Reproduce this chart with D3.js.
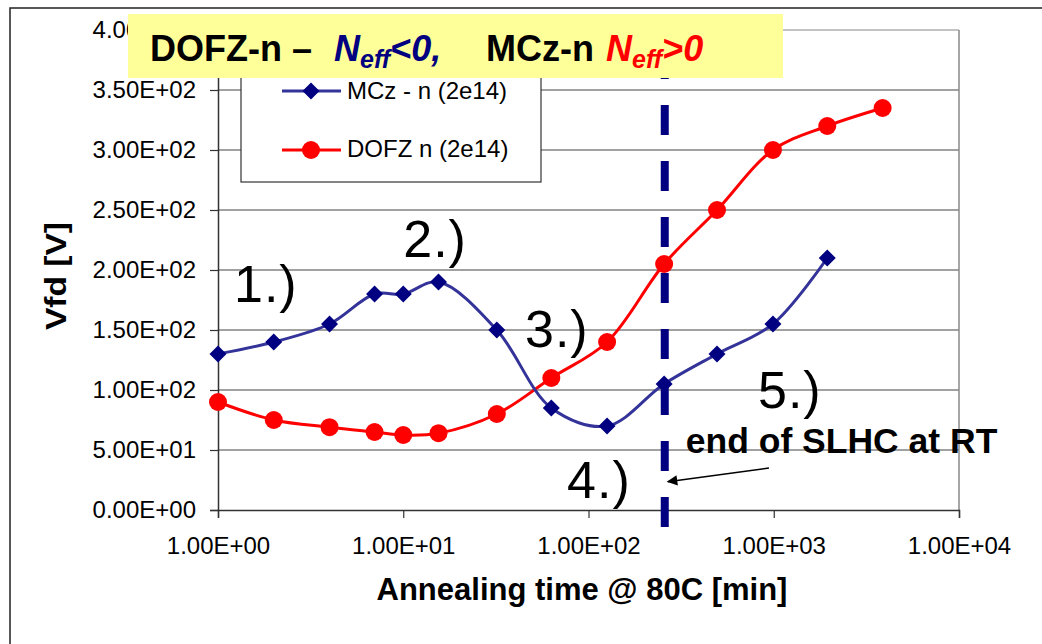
<!DOCTYPE html>
<html>
<head>
<meta charset="utf-8">
<script src="https://cdn.jsdelivr.net/npm/d3@7"></script>
<style>
  body { margin: 0; background: #fff; }
  svg { display: block; font-family: "Liberation Sans", Arial, sans-serif; }
</style>
</head>
<body>
<svg id="chart" width="1042" height="644"></svg>
<script>
// annealing times [min]
const times = [1, 2, 4, 7, 10, 15.5, 32, 63, 126, 256, 494, 990, 1945, 3870];
const mczValues = [130, 140, 155, 180, 180, 190, 150, 85, 70, 105, 130, 155, 210];
const dofzValues = [90, 75, 69, 65, 62.5, 64, 80, 110, 140, 205, 250, 300, 320, 335];
const yTicks = [0, 50, 100, 150, 200, 250, 300, 350, 400];
const xTicks = [1, 10, 100, 1000, 10000];
const endSLHC = 258;

const labels = [
  { text: "1.)", t: 1.22, v: 173.6 },
  { text: "2.)", t: 10.0, v: 210.6 },
  { text: "3.)", t: 45.4, v: 136 },
  { text: "4.)", t: 76.6, v: 9.75 },
  { text: "5.)", t: 822, v: 84.75 },
];

const svg = d3.select("#chart");

const x = d3.scaleLog().domain([1, 10000]).range([218, 959]);
const y = d3.scaleLinear().domain([0, 400]).range([510, 30]);

const sci = (v) => {
  if (v === 0) return "0.00E+00";
  const e = Math.floor(Math.log10(v) + 1e-9);
  const m = v / Math.pow(10, e);
  return m.toFixed(2) + "E+" + String(e).padStart(2, "0");
};

// outer chart frame
svg.append("path")
  .attr("d", "M10,644 L10,8 L1042,8")
  .attr("fill", "none")
  .attr("stroke", "#222")
  .attr("stroke-width", 1.5);

// gridlines
svg.append("g")
  .selectAll("line")
  .data(yTicks.filter((d) => d > 0))
  .join("line")
  .attr("x1", x(1)).attr("x2", x(10000))
  .attr("y1", (d) => y(d)).attr("y2", (d) => y(d))
  .attr("stroke", (d) => (d === 400 ? "#888" : "#444"))
  .attr("stroke-width", 1.2);

// right border of plot
svg.append("line")
  .attr("x1", x(10000)).attr("x2", x(10000))
  .attr("y1", y(0)).attr("y2", y(400))
  .attr("stroke", "#888").attr("stroke-width", 1.5);

// y axis
const yAxis = svg.append("g")
  .attr("transform", `translate(${x(1)},0)`)
  .call(d3.axisLeft(y).tickValues(yTicks).tickFormat(sci).tickSize(8).tickPadding(14));
yAxis.select(".domain").attr("stroke", "#333").attr("stroke-width", 1.5);
yAxis.selectAll("line").attr("stroke", "#333").attr("stroke-width", 1.2);
yAxis.selectAll("text")
  .attr("font-size", 24)
  .attr("font-family", "Liberation Sans, Arial, sans-serif")
  .attr("fill", "#000");

// x axis
const xAxis = svg.append("g")
  .attr("transform", `translate(0,${y(0)})`)
  .call(d3.axisBottom(x).tickValues(xTicks).tickFormat(sci).tickSize(8).tickPadding(19));
xAxis.select(".domain").attr("stroke", "#333").attr("stroke-width", 1.5);
xAxis.selectAll("line").attr("stroke", "#333").attr("stroke-width", 1.2);
xAxis.selectAll("text")
  .attr("font-size", 24)
  .attr("font-family", "Liberation Sans, Arial, sans-serif")
  .attr("fill", "#000");

// axis titles
svg.append("text")
  .attr("transform", "rotate(-90)")
  .attr("x", -276)
  .attr("y", 66)
  .attr("text-anchor", "middle")
  .attr("font-size", 29)
  .attr("font-weight", "bold")
  .attr("textLength", 108)
  .attr("lengthAdjust", "spacingAndGlyphs")
  .text("Vfd [V]");

svg.append("text")
  .attr("x", 582)
  .attr("y", 600)
  .attr("text-anchor", "middle")
  .attr("font-size", 31)
  .attr("font-weight", "bold")
  .text("Annealing time @ 80C [min]");

// legend box
const legend = svg.append("g");
legend.append("rect")
  .attr("x", 241).attr("y", 50)
  .attr("width", 300).attr("height", 132)
  .attr("fill", "#fff")
  .attr("stroke", "#333").attr("stroke-width", 1.2);

// end of SLHC dashed line
svg.append("line")
  .attr("x1", x(endSLHC)).attr("x2", x(endSLHC))
  .attr("y1", 527).attr("y2", y(400))
  .attr("stroke", "#000080")
  .attr("stroke-width", 8)
  .attr("stroke-dasharray", "30,26");

const line = d3.line()
  .x((d) => x(d[0]))
  .y((d) => y(d[1]))
  .curve(d3.curveCatmullRom.alpha(0.5));

const mcz = mczValues.map((v, i) => [times[i], v]);
const dofz = dofzValues.map((v, i) => [times[i], v]);

const diamond = (h) => `M0,${-h}L${h},0L0,${h}L${-h},0Z`;

// DOFZ series
svg.append("path")
  .attr("d", line(dofz))
  .attr("fill", "none")
  .attr("stroke", "#ff0000")
  .attr("stroke-width", 3);
svg.append("g")
  .selectAll("circle")
  .data(dofz)
  .join("circle")
  .attr("cx", (d) => x(d[0]))
  .attr("cy", (d) => y(d[1]))
  .attr("r", 9)
  .attr("fill", "#ff0000");

// MCz series
svg.append("path")
  .attr("d", line(mcz))
  .attr("fill", "none")
  .attr("stroke", "#333399")
  .attr("stroke-width", 3);
svg.append("g")
  .selectAll("path")
  .data(mcz)
  .join("path")
  .attr("d", diamond(8.5))
  .attr("transform", (d) => `translate(${x(d[0])},${y(d[1])})`)
  .attr("fill", "#000080");

// legend entries
legend.append("line")
  .attr("x1", 282).attr("x2", 341).attr("y1", 91).attr("y2", 91)
  .attr("stroke", "#333399").attr("stroke-width", 3);
legend.append("path")
  .attr("d", diamond(8.5))
  .attr("transform", "translate(311,91)")
  .attr("fill", "#000080");
legend.append("text")
  .attr("x", 347).attr("y", 99)
  .attr("font-size", 24)
  .text("MCz - n (2e14)");

legend.append("line")
  .attr("x1", 282).attr("x2", 341).attr("y1", 150).attr("y2", 150)
  .attr("stroke", "#ff0000").attr("stroke-width", 3);
legend.append("circle")
  .attr("cx", 311).attr("cy", 150).attr("r", 9)
  .attr("fill", "#ff0000");
legend.append("text")
  .attr("x", 347).attr("y", 157)
  .attr("font-size", 24)
  .text("DOFZ n (2e14)");

// numbered labels
svg.append("g")
  .selectAll("text")
  .data(labels)
  .join("text")
  .attr("x", (d) => x(d.t))
  .attr("y", (d) => y(d.v))
  .attr("font-size", 52)
  .attr("letter-spacing", 1)
  .text((d) => d.text);

// annotation + arrow
svg.append("defs").append("marker")
  .attr("id", "arrow")
  .attr("viewBox", "0 0 10 10")
  .attr("refX", 9).attr("refY", 5)
  .attr("markerWidth", 9).attr("markerHeight", 7)
  .attr("orient", "auto")
  .append("path")
  .attr("d", "M0,0L10,5L0,10Z")
  .attr("fill", "#000");

svg.append("line")
  .attr("x1", x(942)).attr("y1", y(35))
  .attr("x2", x(268)).attr("y2", y(23.6))
  .attr("stroke", "#000").attr("stroke-width", 1.5)
  .attr("marker-end", "url(#arrow)");

svg.append("text")
  .attr("x", x(335))
  .attr("y", y(47.5))
  .attr("font-size", 35.5)
  .attr("font-weight", "bold")
  .text("end of SLHC at RT");

// title box
const title = svg.append("g");
title.append("rect")
  .attr("x", 128).attr("y", 14)
  .attr("width", 655).attr("height", 64)
  .attr("fill", "#ffff99");

const tt = title.append("text")
  .attr("y", 61)
  .attr("font-size", 36)
  .attr("font-weight", "bold");
tt.append("tspan").attr("x", 150).attr("fill", "#000").text("DOFZ-n –");
tt.append("tspan").attr("x", 334).attr("fill", "#000080").attr("font-style", "italic").text("N");
tt.append("tspan").attr("dy", 7).attr("font-size", 25).attr("fill", "#000080").attr("font-style", "italic").text("eff");
tt.append("tspan").attr("dy", -7).attr("fill", "#000080").attr("font-style", "italic").text("<0,");
tt.append("tspan").attr("x", 486).attr("fill", "#000").text("MCz-n");
tt.append("tspan").attr("x", 606).attr("fill", "#ff0000").attr("font-style", "italic").text("N");
tt.append("tspan").attr("dy", 7).attr("font-size", 25).attr("fill", "#ff0000").attr("font-style", "italic").text("eff");
tt.append("tspan").attr("dy", -7).attr("fill", "#ff0000").attr("font-style", "italic").text(">0");
</script>
</body>
</html>
